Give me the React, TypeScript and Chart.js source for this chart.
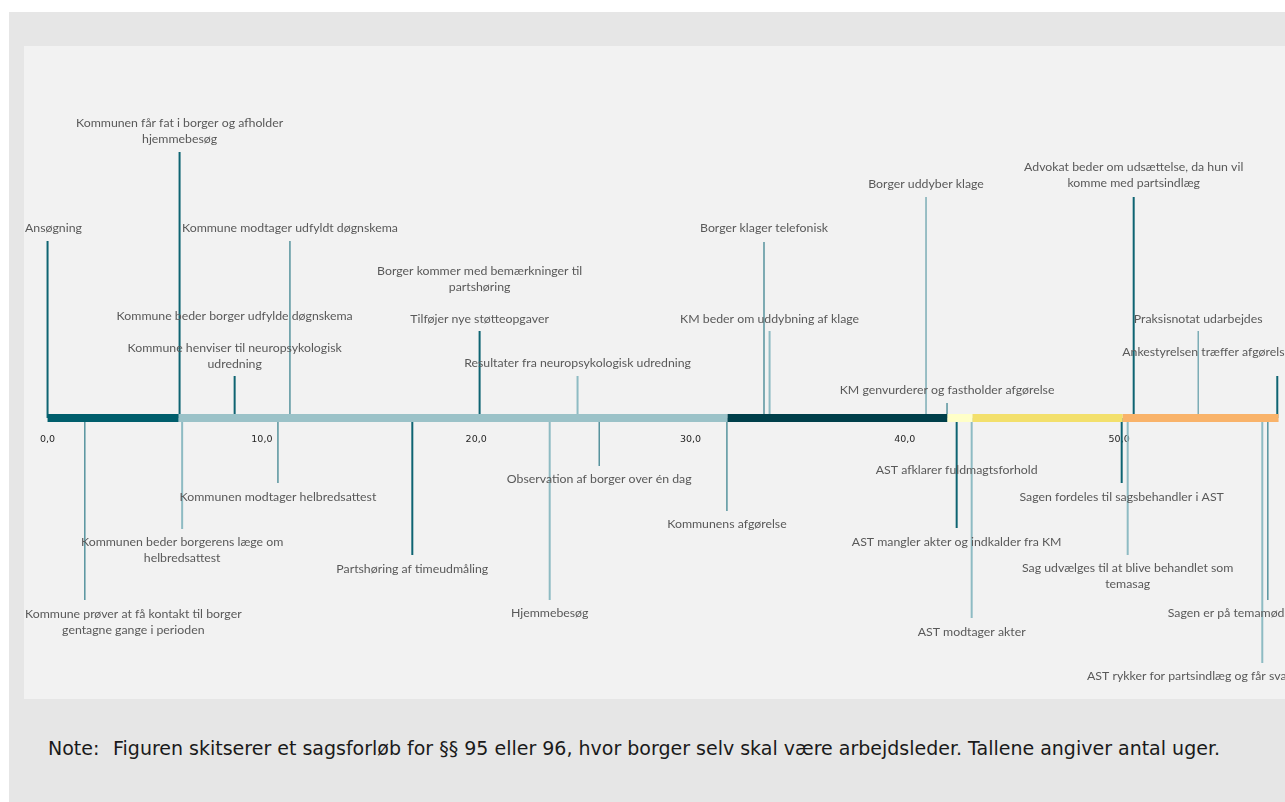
import React, { useEffect, useRef } from "react";
import { Chart, registerables } from "chart.js";

Chart.register(...registerables);

// ---- data ----
const tickValues = [0, 10, 20, 30, 40, 50];

const phaseStarts = [0, 6.11, 31.72, 41.98, 43.15, 50.16];
const phaseEnds = [6.11, 31.72, 41.98, 43.15, 50.16, 57.44];
const phaseColors = ["#005e6c", "#9bc2c8", "#003f4a", "#ffffc8", "#f3e06c", "#f9b36a"];

const eventLabels: string[][] = [
  ["Ansøgning"],
  ["Kommunen får fat i borger og afholder", "hjemmebesøg"],
  ["Kommune beder borger udfylde døgnskema"],
  ["Kommune henviser til neuropsykologisk", "udredning"],
  ["Kommune modtager udfyldt døgnskema"],
  ["Borger kommer med bemærkninger til", "partshøring"],
  ["Tilføjer nye støtteopgaver"],
  ["Resultater fra neuropsykologisk udredning"],
  ["Borger klager telefonisk"],
  ["KM beder om uddybning af klage"],
  ["Borger uddyber klage"],
  ["KM genvurderer og fastholder afgørelse"],
  ["Advokat beder om udsættelse, da hun vil", "komme med partsindlæg"],
  ["Praksisnotat udarbejdes"],
  ["Ankestyrelsen træffer afgørelse"],
  ["Kommune prøver at få kontakt til borger", "gentagne gange i perioden"],
  ["Kommunen beder borgerens læge om", "helbredsattest"],
  ["Kommunen modtager helbredsattest"],
  ["Partshøring af timeudmåling"],
  ["Hjemmebesøg"],
  ["Observation af borger over én dag"],
  ["Kommunens afgørelse"],
  ["AST afklarer fuldmagtsforhold"],
  ["AST mangler akter og indkalder fra KM"],
  ["AST modtager akter"],
  ["Sagen fordeles til sagsbehandler i AST"],
  ["Sag udvælges til at blive behandlet som", "temasag"],
  ["AST rykker for partsindlæg og får svar"],
  ["Sagen er på temamøde"],
];

const eventWeeks = [
  0.0, 6.16, 8.73, 8.73, 11.31, 20.16, 20.16, 24.73, 33.43, 33.69, 40.99, 41.97, 50.68, 53.69, 57.38,
  1.74, 6.28, 10.75, 17.02, 23.43, 25.74, 31.7, 42.42, 42.42, 43.12, 50.12, 50.4, 56.68, 56.94,
];

// length of each marker line (0 = label only)
const eventLineLevels = [
  177, 266, 0, 42, 177, 0, 87, 42, 176, 87, 221, 15, 221, 87, 42,
  -182, -111, -65, -137, -182, -48, -93, 0, -110, -200, -65, -137, -245, -182,
];

// level of the first text line of each label
const eventLabelLevels = [
  190, 295, 102, 70, 190, 147, 99, 55, 190, 99, 234, 28, 251, 99, 66,
  -196, -124, -79, -151, -195, -61, -106, -52, -124, -214, -79, -150, -258, -195,
];

// marker style index
const eventStyles = [
  0, 0, 0, 0, 1, 0, 0, 2, 1, 2, 4, 1, 0, 4, 0,
  1, 2, 1, 0, 2, 1, 1, 0, 0, 2, 0, 2, 2, 1,
];

const styleColors = ["#0e6472", "#2f7b88", "#8ebbc3", "#2f7b88", "#5e9ba6"];
const styleWidths = [2, 1.2, 2, 1.2, 1.2];

const noteLabel = "Note:";
const noteText =
  "Figuren skitserer et sagsforløb for §§ 95 eller 96, hvor borger selv skal være arbejdsleder. Tallene angiver antal uger.";

const CANVAS_W = 1300;
const CANVAS_H = 652;

const labelPlugin = {
  id: "eventLabels",
  afterDatasetsDraw(chart: any) {
    const { ctx, scales } = chart;
    const xs = scales.x;
    const ys = scales.y;
    ctx.save();
    ctx.font = "12.3px Lato";
    ctx.fillStyle = "#595959";
    ctx.textAlign = "center";
    ctx.textBaseline = "middle";
    const leftLimit = 1;
    const rightLimit = 1267;
    const lineGap = 16.3;
    eventLabels.forEach((lines, i) => {
      const px = xs.getPixelForValue(eventWeeks[i]);
      const py = ys.getPixelForValue(eventLabelLevels[i]);
      let w = 0;
      lines.forEach((t) => (w = Math.max(w, ctx.measureText(t).width)));
      let cx = px;
      if (cx - w / 2 < leftLimit) cx = leftLimit + w / 2;
      if (cx + w / 2 > rightLimit) cx = rightLimit - w / 2;
      lines.forEach((t, k) => ctx.fillText(t, cx, py + k * lineGap));
    });
    ctx.restore();
  },
};

export default function App() {
  const ref = useRef<HTMLCanvasElement | null>(null);

  useEffect(() => {
    if (!ref.current) return;
    const datasets: any[] = [];
    phaseStarts.forEach((s, i) => {
      datasets.push({
        data: [
          { x: s, y: 0 },
          { x: phaseEnds[i], y: 0 },
        ],
        borderColor: phaseColors[i],
        borderWidth: 8,
        borderCapStyle: "butt",
        showLine: true,
        pointRadius: 0,
        order: 0,
      });
    });
    eventWeeks.forEach((w, i) => {
      if (eventLineLevels[i] === 0) return;
      datasets.push({
        data: [
          { x: w, y: 0 },
          { x: w, y: eventLineLevels[i] },
        ],
        borderColor: styleColors[eventStyles[i]],
        borderWidth: styleWidths[eventStyles[i]],
        borderCapStyle: "butt",
        showLine: true,
        pointRadius: 0,
        order: 1,
      });
    });

    const chart = new Chart(ref.current, {
      type: "scatter",
      data: { datasets },
      options: {
        animation: false,
        responsive: false,
        devicePixelRatio: 1,
        layout: { padding: 0 },
        plugins: { legend: { display: false }, tooltip: { enabled: false } },
        events: [],
        scales: {
          x: {
            type: "linear",
            min: -1.07,
            max: 59.56,
            position: { y: 0 } as any,
            grid: { display: false, drawTicks: false },
            border: { display: false },
            afterBuildTicks: (scale: any) => {
              scale.ticks = tickValues.map((v) => ({ value: v }));
            },
            ticks: {
              padding: 16,
              color: "#262626",
              font: { family: "DejaVu Sans", size: 9.5 },
              callback: (v: any) => Number(v).toFixed(1).replace(".", ","),
            },
          },
          y: {
            type: "linear",
            min: -280,
            max: 372,
            display: false,
          },
        },
      },
      plugins: [labelPlugin],
    });
    return () => chart.destroy();
  }, []);

  const noteStyle: React.CSSProperties = {
    position: "absolute",
    top: 736,
    fontFamily: "DejaVu Sans",
    fontSize: 19,
    lineHeight: "24px",
    color: "#1a1a1a",
    whiteSpace: "nowrap",
  };

  return (
    <div
      style={{
        position: "absolute",
        left: 0,
        top: 0,
        width: 1285,
        height: 802,
        overflow: "hidden",
        background: "#ffffff",
      }}
    >
      <div
        style={{
          position: "absolute",
          left: 9,
          top: 12,
          width: 1276,
          height: 790,
          background: "#e6e6e6",
        }}
      />
      <div
        style={{
          position: "absolute",
          left: 24,
          top: 46,
          width: 1300,
          height: 653,
          background: "#f2f2f2",
        }}
      />
      <canvas
        ref={ref}
        width={CANVAS_W}
        height={CANVAS_H}
        style={{ position: "absolute", left: 24, top: 46, width: CANVAS_W, height: CANVAS_H }}
      />
      <div style={{ ...noteStyle, left: 48 }}>{noteLabel}</div>
      <div style={{ ...noteStyle, left: 113 }}>{noteText}</div>
    </div>
  );
}
